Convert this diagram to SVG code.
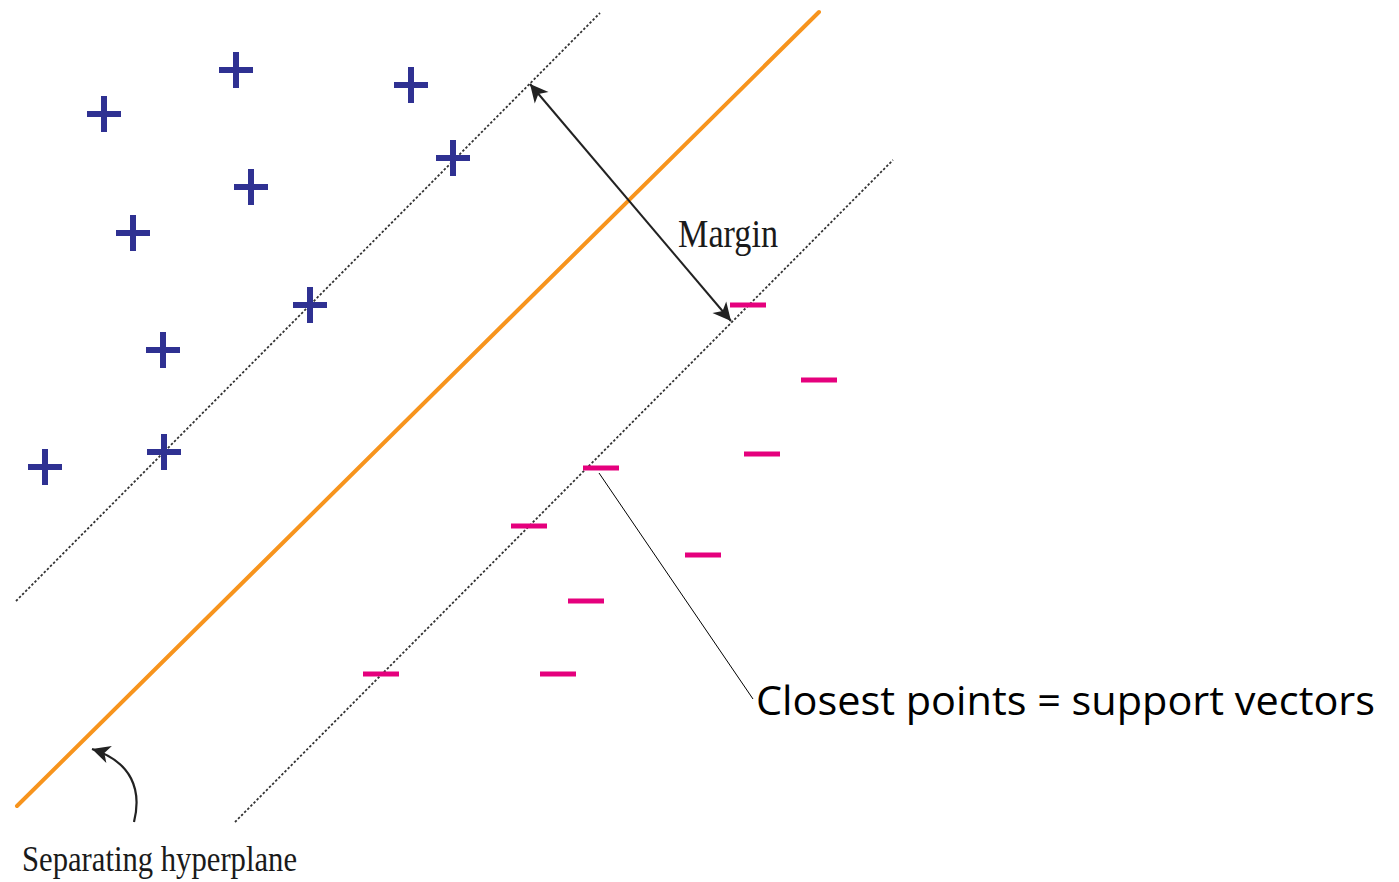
<svg xmlns="http://www.w3.org/2000/svg" width="1399" height="882" viewBox="0 0 1399 882">
  <style>
    .plus { stroke: #2f3192; stroke-width: 6; fill: none; }
    .minus { stroke: #e5007d; stroke-width: 5; fill: none; }
    .bound { stroke: #333; stroke-width: 1.8; stroke-dasharray: 2.4 2; fill: none; }
    .hyper { stroke: #f7941d; stroke-width: 4; fill: none; stroke-linecap: round; }
    .serif { font-family: "Liberation Serif", "Times New Roman", serif; fill: #1a1a1a; }
    .sans { font-family: "Open Sans", "Noto Sans", "Liberation Sans", sans-serif; fill: #000; }
  </style>
  <defs>
    <symbol id="p" overflow="visible"><path class="plus" d="M-17,0 H17 M0,-18 V18"/></symbol>
    <symbol id="m" overflow="visible"><path class="minus" d="M-18,0 H18"/></symbol>
    <marker id="barb" markerWidth="24" markerHeight="20" refX="20" refY="10" orient="auto-start-reverse" markerUnits="userSpaceOnUse">
      <path d="M20,10 L2,1 L7,10 L2,19 Z" fill="#222"/>
    </marker>
  </defs>
  <rect width="1399" height="882" fill="#fff"/>

  <g id="boundaries">
    <line class="bound" x1="16" y1="601" x2="600" y2="13"/>
    <line class="bound" x1="235" y1="822" x2="893" y2="160"/>
  </g>

  <g id="hyperplane">
    <line class="hyper" x1="17" y1="806" x2="819" y2="12"/>
  </g>

  <g id="positives">
    <use href="#p" x="104" y="114"/>
    <use href="#p" x="236" y="70"/>
    <use href="#p" x="411" y="85"/>
    <use href="#p" x="453" y="158"/>
    <use href="#p" x="251" y="187"/>
    <use href="#p" x="133" y="233"/>
    <use href="#p" x="310" y="305"/>
    <use href="#p" x="163" y="350"/>
    <use href="#p" x="164" y="452"/>
    <use href="#p" x="45" y="467"/>
  </g>

  <g id="negatives">
    <use href="#m" x="748" y="305"/>
    <use href="#m" x="819" y="380"/>
    <use href="#m" x="762" y="454"/>
    <use href="#m" x="601" y="468"/>
    <use href="#m" x="529" y="526"/>
    <use href="#m" x="703" y="555"/>
    <use href="#m" x="586" y="601"/>
    <use href="#m" x="381" y="674"/>
    <use href="#m" x="558" y="674"/>
  </g>

  <g id="connectors">
    <line x1="530" y1="84" x2="731" y2="321" stroke="#222" stroke-width="2" marker-start="url(#barb)" marker-end="url(#barb)"/>
    <path d="M134,822 C142,790 132,762 92,749" stroke="#222" stroke-width="2.2" fill="none" marker-end="url(#barb)"/>
    <line x1="599" y1="473" x2="753" y2="699" stroke="#000" stroke-width="1"/>
  </g>

  <g id="margin-label">
    <text class="serif" x="678" y="247" font-size="39" textLength="100" lengthAdjust="spacingAndGlyphs">Margin</text>
  </g>

  <g id="hyperplane-label">
    <text class="serif" x="22" y="871" font-size="35" textLength="275" lengthAdjust="spacingAndGlyphs">Separating hyperplane</text>
  </g>

  <g id="support-label">
    <text class="sans" x="756" y="715" font-size="41" textLength="619" lengthAdjust="spacingAndGlyphs">Closest points = support vectors</text>
  </g>
</svg>
